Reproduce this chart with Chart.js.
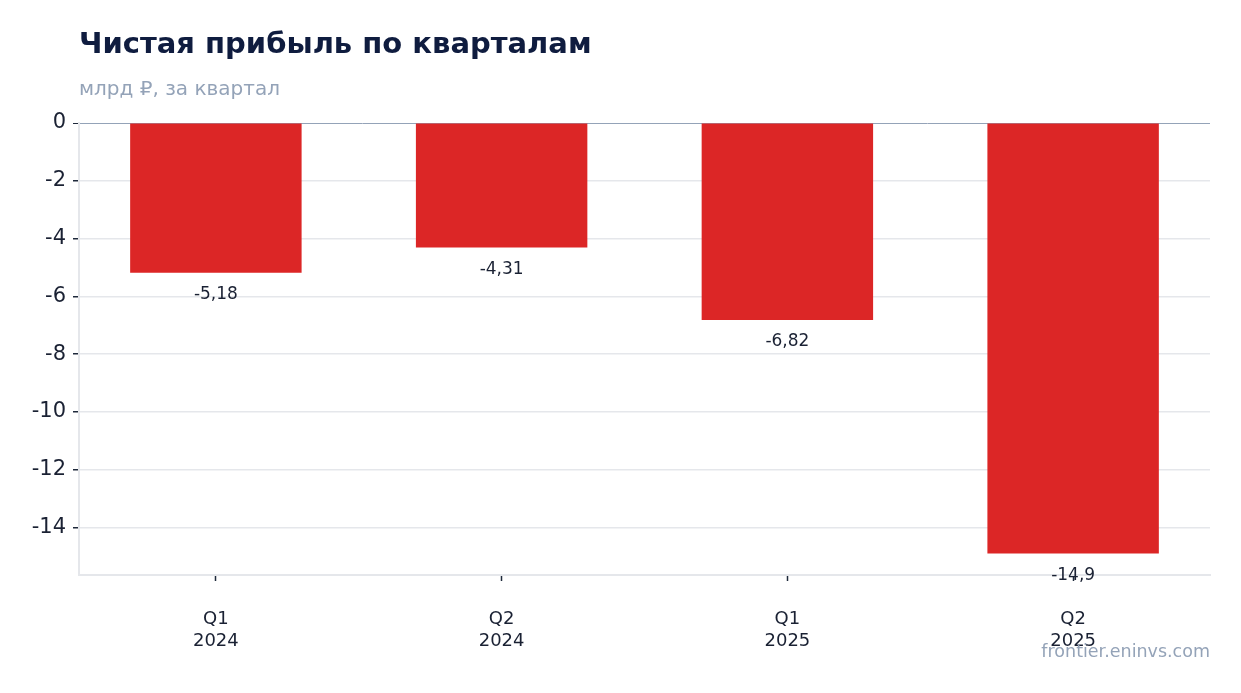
<!DOCTYPE html>
<html>
<head>
<meta charset="utf-8">
<script src="https://cdn.jsdelivr.net/npm/chart.js@4"></script>
<style>
  html, body { margin: 0; padding: 0; background: #fff; }
  body { width: 1241px; height: 693px; position: relative; overflow: hidden; font-family: "DejaVu Sans", sans-serif; }
  #title { position: absolute; left: 79px; top: 26px; font-size: 29px; font-weight: bold; color: #0f1c3f; white-space: nowrap; }
  #subtitle { position: absolute; left: 79px; top: 76px; font-size: 20px; color: #94a3b8; white-space: nowrap; }
  #src { position: absolute; right: 31px; top: 641px; font-size: 17.5px; color: #94a3b8; }
  #wrap { position: absolute; left: 0; top: 0; width: 1241px; height: 693px; }
</style>
</head>
<body>
<div id="wrap"><canvas id="chart"></canvas></div>
<div id="title">Чистая прибыль по кварталам</div>
<div id="subtitle">млрд ₽, за квартал</div>
<div id="src">frontier.eninvs.com</div>
<script>
// ── данные ──
var quarters = [["Q1", "2024"], ["Q2", "2024"], ["Q1", "2025"], ["Q2", "2025"]];
var netProfit = [-5.18, -4.31, -6.82, -14.9];
var yTickStep = 2;

var yMin = Math.min.apply(null, netProfit) * 1.05;
var xPad = 0.479;

function fmtRu(v) { return String(v).replace(".", ","); }

// подписи значений под столбцами
var barLabels = {
  id: "barLabels",
  afterDatasetsDraw: function(chart) {
    var ctx = chart.ctx;
    var meta = chart.getDatasetMeta(0);
    ctx.save();
    ctx.font = "17px 'DejaVu Sans'";
    ctx.fillStyle = "#1a2133";
    ctx.textAlign = "center";
    ctx.textBaseline = "middle";
    meta.data.forEach(function(bar, i) {
      ctx.fillText(fmtRu(netProfit[i]), bar.x, bar.y + 22);
    });
    ctx.restore();
  }
};

new Chart(document.getElementById("chart").getContext("2d"), {
  type: "bar",
  data: {
    datasets: [{
      data: netProfit.map(function(v, i) { return { x: i, y: v }; }),
      backgroundColor: "#dc2626",
      borderWidth: 0,
      categoryPercentage: 1,
      barPercentage: 0.6,
    }],
  },
  options: {
    responsive: true, maintainAspectRatio: false, animation: false,
    layout: { padding: { top: 123, right: 31, left: 0, bottom: 0 } },
    plugins: { legend: { display: false }, tooltip: { enabled: false } },
    scales: {
      x: {
        type: "linear", offset: false,
        min: -xPad, max: quarters.length - 1 + xPad,
        grid: { display: true, offset: false, drawOnChartArea: false, tickLength: 6, tickColor: "#1e293b", tickWidth: 1.5 },
        border: { display: true, color: "#e5e7eb", width: 2 },
        ticks: {
          stepSize: 1, includeBounds: false, autoSkip: false,
          color: "#1a2133", font: { family: "DejaVu Sans", size: 18, lineHeight: 1.22 }, padding: 27, maxRotation: 0,
          callback: function(v) { return quarters[v] || ""; },
        },
        afterFit: function(s) { s.height = 118; },
      },
      y: {
        min: yMin, max: 0,
        grid: {
          color: function(c) { return c.tick && c.tick.value === 0 ? "#94a3b8" : "#e5e7eb"; },
          lineWidth: function(c) { return c.tick && c.tick.value === 0 ? 1 : 1.5; },
          tickLength: 6, tickColor: "#1e293b",
        },
        border: { display: true, color: "#e5e7eb", width: 2 },
        ticks: {
          stepSize: yTickStep, includeBounds: false, padding: 7,
          color: "#1a2133", font: { family: "DejaVu Sans", size: 21 },
          callback: function(v) { return String(v); },
        },
        afterFit: function(s) { s.width = 79; },
      },
    },
  },
  plugins: [barLabels],
});
</script>
</body>
</html>
